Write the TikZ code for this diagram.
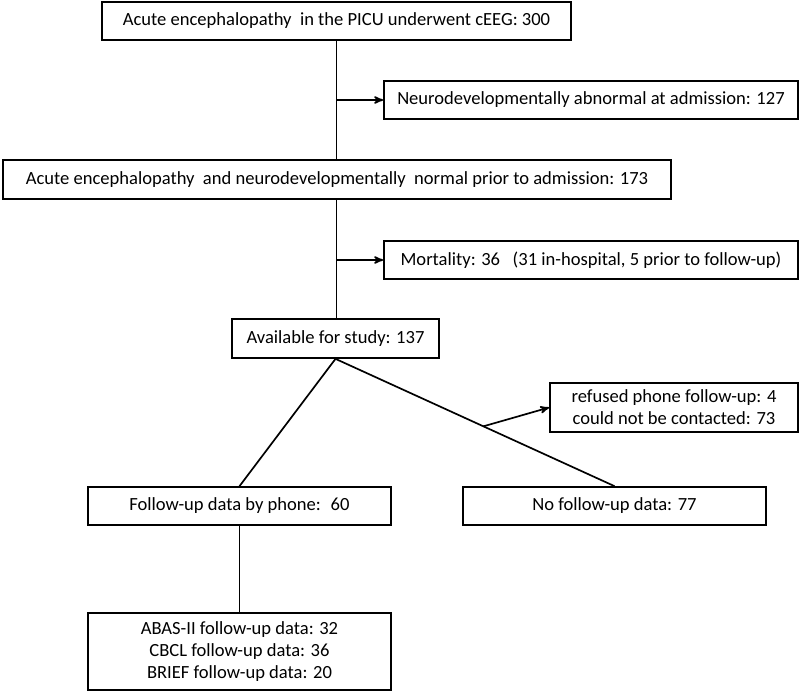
\documentclass[tikz,border=0pt]{standalone}
\usepackage{fontspec}
\setmainfont{Carlito}
\usepackage{tikz}
\usetikzlibrary{arrows}
\usetikzlibrary{shapes}
\usetikzlibrary{calc}
\tikzstyle{box} = [rectangle, draw, fill=white, align=center, inner sep=0pt,
    minimum height=0.95cm, font=\fontsize{13.2}{15.8}\selectfont]

\begin{document}
\begin{tikzpicture}[->,>=stealth',line width=1.2pt,x=0.025cm,y=-0.025cm]
  \useasboundingbox (0,0) rectangle (800,695);

  \node[box,minimum width=11.725cm] (cohort)   at (336.5,21)  {Acute encephalopathy \ in the PICU underwent cEEG: 300};
  \node[box,minimum width=10.35cm]  (abnormal) at (591,100)   {Neurodevelopmentally abnormal at admission: 127};
  \node[box,minimum width=16.7cm,minimum height=0.975cm] (normal) at (337,179.5)
        {Acute encephalopathy \ and neurodevelopmentally \ normal prior to admission: 173};
  \node[box,minimum width=10.35cm]  (mortality) at (591,260)  {Mortality: 36 \ \ (31 in-hospital, 5 prior to follow-up)};
  \node[box,minimum width=5.175cm,minimum height=0.975cm] (available) at (335.5,338.5) {Available for study: 137};
  \node[box,minimum width=6.2cm,minimum height=1.225cm] (lost) at (674,407.5)
        {refused phone follow-up: 4\\could not be contacted: 73};
  \node[box,minimum width=7.575cm]  (phone)    at (239.5,506)  {Follow-up data by phone: \ 60};
  \node[box,minimum width=7.575cm]  (nodata)   at (614.5,506)  {No follow-up data: 77};
  \node[box,minimum width=7.575cm,minimum height=1.925cm] (measures) at (239.5,651.5)
        {ABAS-II follow-up data: 32\\CBCL follow-up data: 36\\BRIEF follow-up data: 20};

  \coordinate (split1) at (cohort.south |- abnormal.west);
  \coordinate (split2) at (normal.south -| cohort.south);
  \coordinate (split3) at (split2 |- mortality.west);
  \coordinate (split4) at ($(available.south)!0.53!(nodata.north)$);

  \path (cohort.south) edge[-] (cohort.south |- normal.north)
        (split1) edge (abnormal.west)
        (split2) edge[-] (split2 |- available.north)
        (split3) edge (mortality.west)
        (available.south) edge[-] (phone.north)
        (available.south) edge[-] (nodata.north)
        (split4) edge (lost.west)
        (phone.south) edge[-] (measures.north);
\end{tikzpicture}
\end{document}
